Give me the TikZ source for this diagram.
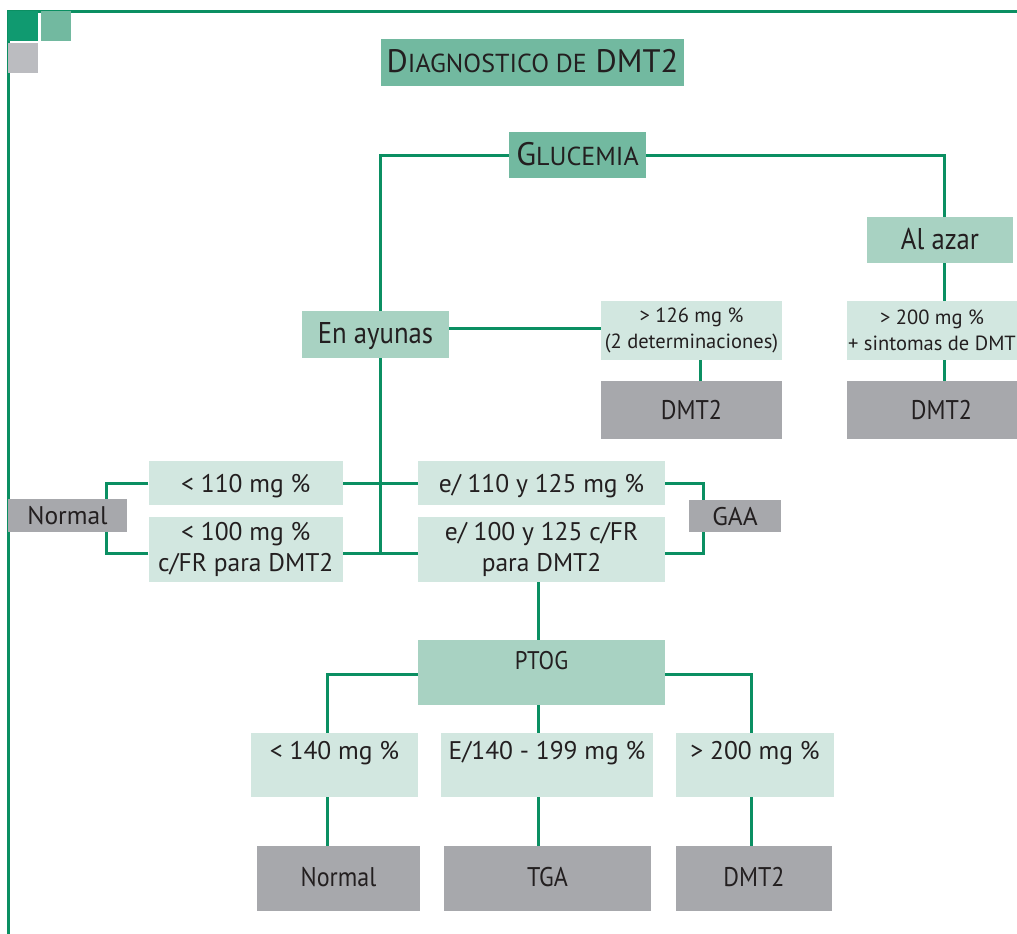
\documentclass[tikz,border=0pt]{standalone}
\usepackage{fontspec}
\setmainfont{PT Sans}
\newfontfamily\condfont[FakeStretch=0.89]{PT Sans}
\definecolor{lineg}{RGB}{11,143,98}
\definecolor{sqdark}{RGB}{16,154,112}
\definecolor{medgreen}{RGB}{114,185,160}
\definecolor{sqgrey}{RGB}{187,188,192}
\definecolor{mintdark}{RGB}{168,210,194}
\definecolor{mintlight}{RGB}{210,231,224}
\definecolor{boxgrey}{RGB}{167,168,172}
\definecolor{ink}{RGB}{35,31,32}
\newcommand\smc[1]{{\fontsize{26}{28}\selectfont #1}}
\begin{document}
\begin{tikzpicture}[x=1pt,y=-1pt,
  conn/.style={draw=lineg, line width=3pt},
  boxbase/.style={rectangle, inner sep=0pt, text=ink, align=center},
  mint/.style={boxbase, fill=mintlight},
  mintd/.style={boxbase, fill=mintdark},
  greybox/.style={boxbase, fill=boxgrey},
  hdr/.style={boxbase, fill=medgreen},
  capc/.style={text height=#1, text depth=0pt},
  fsmall/.style={font=\fontsize{20.5}{26}\selectfont},
  fmid/.style={font=\fontsize{25.5}{31}\selectfont},
  fcond/.style={font=\condfont\fontsize{25.5}{31}\selectfont},
  fres/.style={font=\condfont\fontsize{27}{31}\selectfont},
  fbig/.style={font=\condfont\fontsize{30}{34}\selectfont},
  ftitle/.style={font=\fontsize{32.5}{36}\selectfont}
]
\useasboundingbox (0,0) rectangle (1017,934);
\clip (0,0) rectangle (1017,934);

% page frame and corner squares
\fill[lineg] (7,10) rectangle (1017,12.7);
\fill[lineg] (7,10) rectangle (10,934);
\fill[sqdark] (8,11) rectangle (37.7,40.7);
\fill[medgreen] (41,11) rectangle (71,40.7);
\fill[sqgrey] (8,43) rectangle (37.7,72.7);

% headings
\node[hdr, ftitle, minimum width=303pt, minimum height=47pt, text height=23pt, text depth=4pt]
  (title) at (532.5,62.5) {D\smc{IAGNOSTICO DE} DMT2};
\node[hdr, ftitle, minimum width=137pt, minimum height=46pt, text height=23pt, text depth=3pt]
  (gl) at (577.5,155) {G\smc{LUCEMIA}};

% first level
\node[mintd, fbig, minimum width=147pt, minimum height=47pt, text height=21pt, text depth=4pt]
  (ea) at (375.5,334.5) {En ayunas};
\node[mintd, fbig, minimum width=146pt, minimum height=46pt, text height=21pt, text depth=3pt]
  (az) at (940,240) {Al azar};

% fasting / random thresholds
\node[mint, fsmall, minimum width=181pt, minimum height=59pt]
  (s126) at (691.5,330.5) {> 126 mg \%\\(2 determinaciones)};
\node[mint, fsmall, minimum width=170pt, minimum height=59pt]
  (s200) at (932,330.5) {> 200 mg \%\\+ sintomas de DMT};
\node[greybox, fres, minimum width=181pt, minimum height=58pt, capc=19pt]
  (dm1) at (691.5,410) {DMT2};
\node[greybox, fres, minimum width=189pt, minimum height=58pt, capc=19pt]
  (dm2) at (941.5,410) {DMT2};

% fasting ranges
\node[mint, fmid, minimum width=194.5pt, minimum height=44pt, capc=18pt]
  (lt1) at (245.75,483) {< 110 mg \%};
\node[mint, fmid, minimum width=194.5pt, minimum height=65pt]
  (lt2) at (245.75,549.5) {< 100 mg \%\\c/FR para DMT2};
\node[mint, fmid, minimum width=247pt, minimum height=44pt, capc=18pt]
  (rt1) at (541.5,483) {e/ 110 y 125 mg \%};
\node[mint, fmid, minimum width=247pt, minimum height=65pt]
  (rt2) at (541.5,549.5) {e/ 100 y 125 c/FR\\para DMT2};
\node[greybox, fmid, minimum width=119pt, minimum height=33pt, capc=18pt]
  (nl) at (67.5,515.5) {Normal};
\node[greybox, fmid, minimum width=92pt, minimum height=32pt, capc=18pt]
  (gaa) at (735,516) {GAA};

% oral glucose tolerance test
\node[mintd, fcond, minimum width=247pt, minimum height=65pt, text height=18pt, text depth=25pt]
  (ptog) at (541.5,672.5) {PTOG};
\node[mint, fmid, minimum width=167pt, minimum height=64pt, text height=18pt, text depth=30pt]
  (r1) at (334.5,765) {< 140 mg \%};
\node[mint, fmid, minimum width=212pt, minimum height=64pt, text height=18pt, text depth=30pt]
  (r2) at (547,765) {E/140 - 199 mg \%};
\node[mint, fmid, minimum width=158pt, minimum height=64pt, text height=18pt, text depth=30pt]
  (r3) at (755,765) {> 200 mg \%};
\node[greybox, fres, minimum width=163pt, minimum height=65pt, capc=19pt, text depth=3pt]
  (b1) at (338.5,878.5) {Normal};
\node[greybox, fres, minimum width=207pt, minimum height=65pt, capc=19pt, text depth=3pt]
  (b2) at (547.5,878.5) {TGA};
\node[greybox, fres, minimum width=156pt, minimum height=65pt, capc=19pt, text depth=3pt]
  (b3) at (754,878.5) {DMT2};

% connectors
\draw[conn] (gl.west) -| ([xshift=5pt]ea.north);
\draw[conn] (gl.east) -| ([xshift=4pt]az.north);
\draw[conn] ([xshift=4pt]az.south) -- ([xshift=12pt]s200.north);
\draw[conn] ([xshift=12pt]s200.south) -- ([xshift=2.5pt]dm2.north);
\draw[conn] ([yshift=6.5pt]ea.east) coordinate (eh) -- (eh -| s126.west);
\draw[conn] ([xshift=8.5pt]s126.south) -- ([xshift=8.5pt]dm1.north);

\coordinate (eax) at ([xshift=5pt]ea.south);
\coordinate (jl) at ([yshift=-3.5pt]lt2.east);
\draw[conn] (eax) -- (eax |- jl);
\draw[conn] (lt1.east) -- (rt1.west);
\draw[conn] (jl) -- (jl -| rt2.west);

\draw[conn] (lt1.west) -| ([xshift=38.5pt]nl.north);
\draw[conn] ([yshift=-3.5pt]lt2.west) -| ([xshift=38.5pt]nl.south);
\draw[conn] (rt1.east) -| ([xshift=-32pt]gaa.north);
\draw[conn] ([yshift=-3.5pt]rt2.east) -| ([xshift=-32pt]gaa.south);

\draw[conn] ([xshift=-3.5pt]rt2.south) -- ([xshift=-3.5pt]ptog.north);
\draw[conn] ([yshift=-1.5pt]ptog.west) -| ([xshift=-7.5pt]r1.north);
\draw[conn] ([yshift=-1.5pt]ptog.east) -| ([xshift=-4pt]r3.north);
\draw[conn] ([xshift=-3.5pt]ptog.south) -- ([xshift=-9pt]r2.north);
\draw[conn] ([xshift=-7.5pt]r1.south) -- ([xshift=-11.5pt]b1.north);
\draw[conn] ([xshift=-9pt]r2.south) -- ([xshift=-9.5pt]b2.north);
\draw[conn] ([xshift=-4pt]r3.south) -- ([xshift=-3pt]b3.north);
\end{tikzpicture}
\end{document}
